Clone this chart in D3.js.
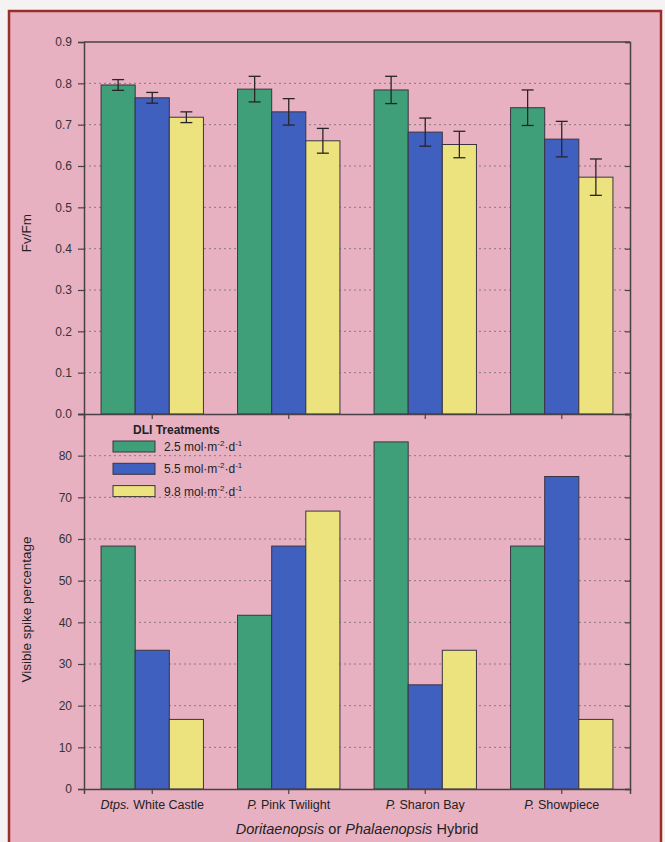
<!DOCTYPE html>
<html>
<head>
<meta charset="utf-8">
<script src="https://cdn.jsdelivr.net/npm/d3@7"></script>
<style>
  body { margin: 0; background: #f4f2f2; }
  svg { display: block; font-family: Arial, "Liberation Sans", sans-serif; }
</style>
</head>
<body>
<div id="chart"></div>
<script>
// categories / treatments
const hybrids = ['Dtps. White Castle', 'P. Pink Twilight', 'P. Sharon Bay', 'P. Showpiece'];
const hybridPrefix = ['Dtps.', 'P.', 'P.', 'P.'];
const hybridName = ['White Castle', 'Pink Twilight', 'Sharon Bay', 'Showpiece'];
const treatments = ['2.5', '5.5', '9.8'];
const colors = ['#3e9f79', '#4060c0', '#ece37e'];

// Fv/Fm (upper panel), rows = hybrids, cols = treatments
const fvfm = [
  [0.796, 0.765, 0.718],
  [0.786, 0.731, 0.661],
  [0.784, 0.682, 0.652],
  [0.741, 0.665, 0.573]
];
const fvfmErr = [
  [0.013, 0.013, 0.013],
  [0.031, 0.032, 0.030],
  [0.033, 0.034, 0.032],
  [0.043, 0.043, 0.044]
];
// visible spike percentage (lower panel)
const spike = [
  [58.3, 33.3, 16.7],
  [41.7, 58.3, 66.7],
  [83.3, 25.0, 33.3],
  [58.3, 75.0, 16.7]
];
const fvfmTicks = [0, 0.1, 0.2, 0.3, 0.4, 0.5, 0.6, 0.7, 0.8, 0.9];
const spikeTicks = [0, 10, 20, 30, 40, 50, 60, 70, 80];

const width = 665, height = 842;
const left = 84, right = 630;
const top1 = 42, mid = 414, bot = 789;
const bg = '#e8b1c2';
const axisCol = '#4a4048';

const svg = d3.select('#chart').append('svg')
  .attr('width', width).attr('height', height);

// outer panel
svg.append('rect')
  .attr('x', 9).attr('y', 11).attr('width', 652).attr('height', 840)
  .attr('fill', bg).attr('stroke', '#9a2f2a').attr('stroke-width', 2.5);

const x0 = d3.scaleBand().domain(hybrids).range([left, right]).paddingInner(0.25).paddingOuter(0.125);
const x1 = d3.scaleBand().domain(treatments).range([0, x0.bandwidth()]);
const yTop = d3.scaleLinear().domain([0, 0.9]).range([mid, top1]);
const yBot = d3.scaleLinear().domain([0, 90]).range([bot, mid]);

// dotted gridlines
function grid(scale, ticks) {
  svg.append('g').selectAll('line').data(ticks.filter(t => t > 0 && t < scale.domain()[1]))
    .join('line')
    .attr('x1', left).attr('x2', right)
    .attr('y1', d => scale(d)).attr('y2', d => scale(d))
    .attr('stroke', '#8a7a80').attr('stroke-width', 1)
    .attr('stroke-dasharray', '2,3');
}
grid(yTop, fvfmTicks);
grid(yBot, spikeTicks);

// bars
function bars(scale, values) {
  const g = svg.append('g');
  hybrids.forEach((h, i) => {
    g.selectAll(null).data(values[i]).join('rect')
      .attr('x', (d, j) => x0(h) + x1(treatments[j]))
      .attr('width', x1.bandwidth())
      .attr('y', d => scale(d))
      .attr('height', d => scale(0) - scale(d))
      .attr('fill', (d, j) => colors[j])
      .attr('stroke', '#3a3440').attr('stroke-width', 1);
  });
}
bars(yTop, fvfm);
bars(yBot, spike);

// error bars
const eg = svg.append('g').attr('stroke', '#2a2428').attr('stroke-width', 1.3);
hybrids.forEach((h, i) => {
  fvfm[i].forEach((v, j) => {
    const cx = x0(h) + x1(treatments[j]) + x1.bandwidth() / 2;
    const e = fvfmErr[i][j];
    eg.append('line').attr('x1', cx).attr('x2', cx).attr('y1', yTop(v + e)).attr('y2', yTop(v - e));
    [v + e, v - e].forEach(t => eg.append('line')
      .attr('x1', cx - 6).attr('x2', cx + 6).attr('y1', yTop(t)).attr('y2', yTop(t)));
  });
});

// axes
function styleAxis(g) {
  g.selectAll('path').attr('stroke', axisCol).attr('stroke-width', 1.5);
  g.selectAll('line').attr('stroke', axisCol).attr('stroke-width', 1.2);
  g.selectAll('text').attr('fill', '#333').attr('font-size', 12);
}
svg.append('g').attr('transform', `translate(${left},0)`)
  .call(d3.axisLeft(yTop).tickValues(fvfmTicks).tickFormat(d3.format('.1f')).tickSizeOuter(0).tickSize(6).tickPadding(6))
  .call(styleAxis);
svg.append('g').attr('transform', `translate(${left},0)`)
  .call(d3.axisLeft(yBot).tickValues(spikeTicks).tickFormat(d3.format('d')).tickSizeOuter(0).tickSize(6).tickPadding(6))
  .call(styleAxis);
// right side inner ticks
svg.append('g').attr('transform', `translate(${right},0)`)
  .call(d3.axisLeft(yTop).tickValues(fvfmTicks).tickFormat('').tickSizeOuter(0).tickSize(5))
  .call(styleAxis);
svg.append('g').attr('transform', `translate(${right},0)`)
  .call(d3.axisLeft(yBot).tickValues(spikeTicks).tickFormat('').tickSizeOuter(0).tickSize(5))
  .call(styleAxis);
// category axes
svg.append('g').attr('transform', `translate(0,${mid})`)
  .call(d3.axisBottom(x0).tickFormat('').tickSizeOuter(0).tickSize(5))
  .call(styleAxis);
const xb = svg.append('g').attr('transform', `translate(0,${bot})`)
  .call(d3.axisBottom(x0).tickFormat('').tickSizeOuter(0).tickSize(5))
  .call(styleAxis);
// top border of upper panel
svg.append('line').attr('x1', left).attr('x2', right).attr('y1', top1).attr('y2', top1)
  .attr('stroke', axisCol).attr('stroke-width', 1.5);

// category labels
xb.selectAll('.tick').each(function (d, i) {
  const t = d3.select(this).append('text')
    .attr('y', 20).attr('text-anchor', 'middle').attr('fill', '#222')
    .attr('font-size', 12.5);
  t.append('tspan').attr('font-style', 'italic').text(hybridPrefix[i]);
  t.append('tspan').text(' ' + hybridName[i]);
});

// x title
const xt = svg.append('text').attr('x', (left + right) / 2).attr('y', 834)
  .attr('text-anchor', 'middle').attr('font-size', 14.5).attr('fill', '#222');
xt.append('tspan').attr('font-style', 'italic').text('Doritaenopsis');
xt.append('tspan').text(' or ');
xt.append('tspan').attr('font-style', 'italic').text('Phalaenopsis');
xt.append('tspan').text(' Hybrid');

// y titles
svg.append('text').attr('transform', `translate(31,${(top1 + mid) / 2 + 5}) rotate(-90)`)
  .attr('text-anchor', 'middle').attr('font-size', 13.5).attr('fill', '#222').text('Fv/Fm');
svg.append('text').attr('transform', `translate(31,${(mid + bot) / 2 + 8}) rotate(-90)`)
  .attr('text-anchor', 'middle').attr('font-size', 13.5).attr('fill', '#222').text('Visible spike percentage');

// legend
const lg = svg.append('g').attr('transform', 'translate(113,0)');
lg.append('text').attr('x', 20).attr('y', 434).attr('font-size', 12).attr('font-weight', 'bold')
  .attr('fill', '#222').text('DLI Treatments');
treatments.forEach((t, j) => {
  const yy = 441 + j * 22.3;
  lg.append('rect').attr('x', 0).attr('y', yy).attr('width', 42).attr('height', 11)
    .attr('fill', colors[j]).attr('stroke', '#3a3440').attr('stroke-width', 1);
  const tx = lg.append('text').attr('x', 51).attr('y', yy + 10).attr('font-size', 12).attr('fill', '#222');
  tx.append('tspan').text(t + ' mol·m');
  tx.append('tspan').attr('dy', -5).attr('font-size', 8).text('-2');
  tx.append('tspan').attr('dy', 5).text('·d');
  tx.append('tspan').attr('dy', -5).attr('font-size', 8).text('-1');
});
</script>
</body>
</html>
